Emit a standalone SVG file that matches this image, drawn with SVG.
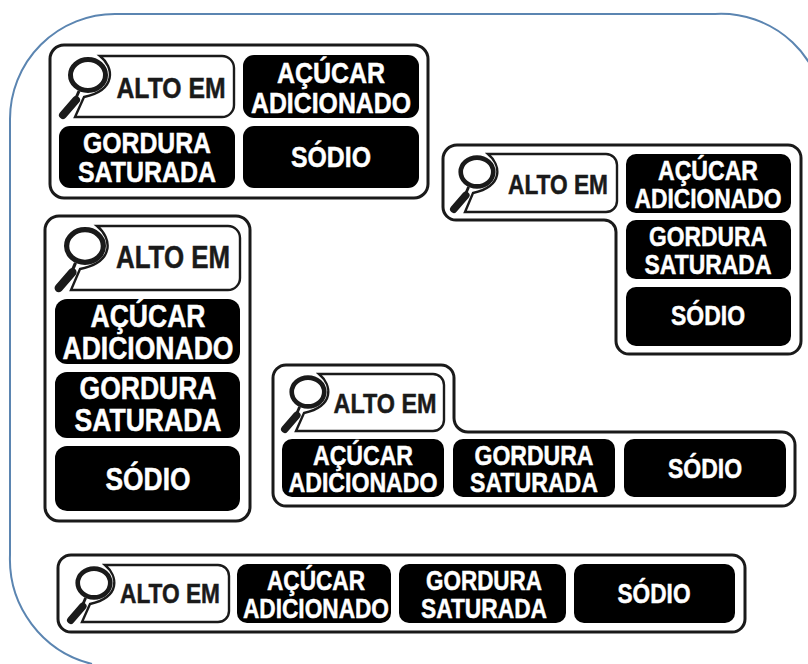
<svg xmlns="http://www.w3.org/2000/svg" width="808" height="664" viewBox="0 0 808 664">
<style>
.p{fill:#fff;stroke:#1a1a1a;stroke-width:3}
.a{fill:#fff;stroke:#1a1a1a;stroke-width:2.4}
.b{fill:#000;stroke:none}
text{font-family:"Liberation Sans",Arial,sans-serif;font-weight:700;text-anchor:middle}
.w{fill:#fff;stroke:#fff;stroke-width:.5}
.k{fill:#1a1a1a;stroke:#1a1a1a;stroke-width:.5}
.s1 text{font-size:30px}
.s2 text{font-size:27.600px}
.s3 text{font-size:32px}
.s4 text{font-size:28px}
.s5 text{font-size:27.500px}
</style>
<defs>
<g id="mag">
<ellipse cx="0" cy="0" rx="17.500" ry="15.500" fill="#fff" stroke="#1a1a1a" stroke-width="5"/>
<path d="M-12,25L-25,40" stroke="#1a1a1a" stroke-width="8" stroke-linecap="round"/>
<path d="M-9,16L-12,23" stroke="#1a1a1a" stroke-width="3"/>
</g>
</defs>
<rect width="808" height="664" fill="#fff"/>
<path id="frame" d="M825,120V118A104,104 0 0 0 715,14H115A105,105 0 0 0 10,119V555A108,108 0 0 0 92,664" fill="none" stroke="#5b85b1" stroke-width="2"/>

<g id="panel-1" class="s1">
<rect class="p" x="50" y="45" width="378" height="153" rx="14"/>
<path class="a" d="M100,56C114,67 117,90 84,97L75,117H222A12,12 0 0 0 234,105V68A12,12 0 0 0 222,56Z"/>
<use href="#mag" transform="translate(88,75)"/>
<text class="k" x="171" y="98" textLength="109" lengthAdjust="spacingAndGlyphs">ALTO EM</text>
<rect class="b" x="243" y="55" width="176" height="63" rx="11"/>
<text class="w" x="331" y="83" textLength="108" lengthAdjust="spacingAndGlyphs">AÇÚCAR</text><text class="w" x="331" y="113" textLength="160" lengthAdjust="spacingAndGlyphs">ADICIONADO</text>
<rect class="b" x="59" y="126" width="176" height="62" rx="11"/>
<text class="w" x="147" y="153" textLength="128" lengthAdjust="spacingAndGlyphs">GORDURA</text><text class="w" x="147" y="182" textLength="138" lengthAdjust="spacingAndGlyphs">SATURADA</text>
<rect class="b" x="243" y="126" width="176" height="62" rx="11"/>
<text class="w" x="331" y="167" textLength="80" lengthAdjust="spacingAndGlyphs">SÓDIO</text>
</g>

<g id="panel-2" class="s2">
<path class="p" d="M457,145H788A13,13 0 0 1 801,158V341A13,13 0 0 1 788,354H629A13,13 0 0 1 616,341V232A12,12 0 0 0 604,220H456A13,13 0 0 1 443,207V159A14,14 0 0 1 457,145Z"/>
<path class="a" d="M488,154C501,165 504,186 473,193L465,212H606A11,11 0 0 0 617,201V165A11,11 0 0 0 606,154Z"/>
<use href="#mag" transform="translate(477,172) scale(.93)"/>
<text class="k" x="558" y="194" textLength="100" lengthAdjust="spacingAndGlyphs">ALTO EM</text>
<rect class="b" x="626" y="154" width="165" height="59" rx="10"/>
<text class="w" x="708" y="180" textLength="100" lengthAdjust="spacingAndGlyphs">AÇÚCAR</text><text class="w" x="708" y="208" textLength="147" lengthAdjust="spacingAndGlyphs">ADICIONADO</text>
<rect class="b" x="626" y="220" width="165" height="59" rx="10"/>
<text class="w" x="708" y="246" textLength="118" lengthAdjust="spacingAndGlyphs">GORDURA</text><text class="w" x="708" y="274" textLength="127" lengthAdjust="spacingAndGlyphs">SATURADA</text>
<rect class="b" x="626" y="287" width="165" height="59" rx="10"/>
<text class="w" x="708" y="325" textLength="74" lengthAdjust="spacingAndGlyphs">SÓDIO</text>
</g>

<g id="panel-3" class="s3">
<rect class="p" x="45" y="216" width="205" height="305" rx="14"/>
<path class="a" d="M97,226C112,238 115,262 80,269L71,290H228A12,12 0 0 0 240,278V238A12,12 0 0 0 228,226Z"/>
<use href="#mag" transform="translate(85,246) scale(1.05)"/>
<text class="k" x="173" y="268" textLength="114" lengthAdjust="spacingAndGlyphs">ALTO EM</text>
<rect class="b" x="55" y="299" width="185" height="65" rx="12"/>
<text class="w" x="148" y="327" textLength="115" lengthAdjust="spacingAndGlyphs">AÇÚCAR</text><text class="w" x="148" y="359" textLength="171" lengthAdjust="spacingAndGlyphs">ADICIONADO</text>
<rect class="b" x="55" y="372" width="185" height="66" rx="12"/>
<text class="w" x="148" y="399" textLength="137" lengthAdjust="spacingAndGlyphs">GORDURA</text><text class="w" x="148" y="431" textLength="147" lengthAdjust="spacingAndGlyphs">SATURADA</text>
<rect class="b" x="55" y="446" width="185" height="65" rx="12"/>
<text class="w" x="148" y="490" textLength="85" lengthAdjust="spacingAndGlyphs">SÓDIO</text>
</g>

<g id="panel-4" class="s4">
<path class="p" d="M286,365H441A13,13 0 0 1 454,378V418A14,14 0 0 0 468,432H782A13,13 0 0 1 795,445V493A13,13 0 0 1 782,506H286A13,13 0 0 1 273,493V378A13,13 0 0 1 286,365Z"/>
<path class="a" d="M319,374C332,385 335,406 304,413L296,431H433A11,11 0 0 0 444,420V385A11,11 0 0 0 433,374Z"/>
<use href="#mag" transform="translate(308,392) scale(.93)"/>
<text class="k" x="385" y="413" textLength="103" lengthAdjust="spacingAndGlyphs">ALTO EM</text>
<rect class="b" x="282" y="439" width="162" height="58" rx="10"/>
<text class="w" x="363" y="465" textLength="100" lengthAdjust="spacingAndGlyphs">AÇÚCAR</text><text class="w" x="363" y="492" textLength="149" lengthAdjust="spacingAndGlyphs">ADICIONADO</text>
<rect class="b" x="453" y="439" width="162" height="58" rx="10"/>
<text class="w" x="534" y="465" textLength="119" lengthAdjust="spacingAndGlyphs">GORDURA</text><text class="w" x="534" y="492" textLength="128" lengthAdjust="spacingAndGlyphs">SATURADA</text>
<rect class="b" x="624" y="439" width="162" height="58" rx="10"/>
<text class="w" x="705" y="478" textLength="74" lengthAdjust="spacingAndGlyphs">SÓDIO</text>
</g>

<g id="panel-5" class="s5">
<rect class="p" x="58" y="555" width="687" height="77" rx="13"/>
<path class="a" d="M105,565C118,576 121,597 90,604L82,622H218A11,11 0 0 0 229,611V576A11,11 0 0 0 218,565Z"/>
<use href="#mag" transform="translate(94,583) scale(.93)"/>
<text class="k" x="170" y="603" textLength="100" lengthAdjust="spacingAndGlyphs">ALTO EM</text>
<rect class="b" x="237" y="564" width="154" height="59" rx="10"/>
<text class="w" x="316" y="590" textLength="98" lengthAdjust="spacingAndGlyphs">AÇÚCAR</text><text class="w" x="316" y="618" textLength="146" lengthAdjust="spacingAndGlyphs">ADICIONADO</text>
<rect class="b" x="399" y="564" width="167" height="59" rx="10"/>
<text class="w" x="484" y="590" textLength="116" lengthAdjust="spacingAndGlyphs">GORDURA</text><text class="w" x="484" y="618" textLength="126" lengthAdjust="spacingAndGlyphs">SATURADA</text>
<rect class="b" x="574" y="564" width="161" height="59" rx="10"/>
<text class="w" x="654" y="603" textLength="73" lengthAdjust="spacingAndGlyphs">SÓDIO</text>
</g>
</svg>
